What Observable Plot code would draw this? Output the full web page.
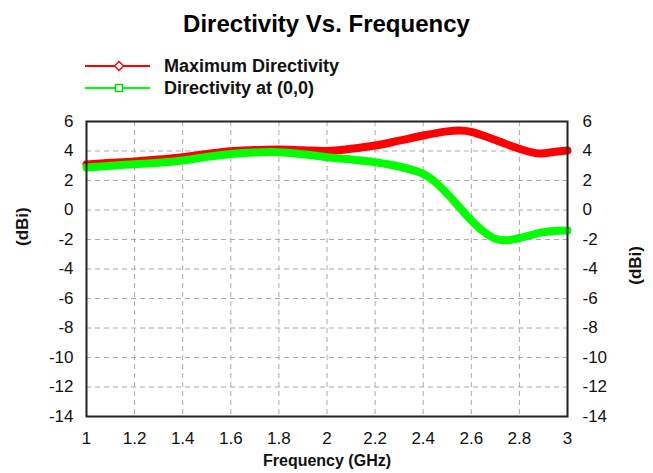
<!DOCTYPE html>
<html>
<head>
<meta charset="utf-8">
<script src="https://cdn.jsdelivr.net/npm/d3@7"></script>
<script src="https://cdn.jsdelivr.net/npm/@observablehq/plot@0.6"></script>
<style>
  body { margin: 0; background: #fff; font-family: "Liberation Sans", Arial, sans-serif; }
  #wrap { width: 653px; height: 473px; position: relative; overflow: hidden; }
  #head { position: relative; width: 653px; height: 105px; }
  #title { position: absolute; left: 0; width: 653px; top: 10px; text-align: center; font-weight: bold; font-size: 24px; color: #000; }
  .leg { position: absolute; left: 85px; height: 20px; display: flex; align-items: center; font-weight: bold; font-size: 18px; color: #111; }
  .leg svg { margin-right: 13px; }
  svg.plot { overflow: visible; display: block; }
</style>
</head>
<body>
<div id="wrap">
  <div id="head">
    <div id="title">Directivity Vs. Frequency</div>
    <div class="leg" style="top:56px">
      <svg width="66" height="12"><line x1="0" y1="6" x2="65" y2="6" stroke="#ff0000" stroke-width="2"/><path d="M34,1.5 L38.5,6 L34,10.5 L29.5,6 Z" fill="#fff" stroke="#ff0000" stroke-width="1.5"/></svg>
      <span>Maximum Directivity</span>
    </div>
    <div class="leg" style="top:78px">
      <svg width="66" height="12"><line x1="0" y1="6" x2="65" y2="6" stroke="#00ff00" stroke-width="2"/><rect x="30.5" y="2.5" width="7" height="7" fill="#fff" stroke="#00dd00" stroke-width="1.5"/></svg>
      <span>Directivity at (0,0)</span>
    </div>
  </div>
  <div id="chart"></div>
</div>
<script>
const seriesNames = ["Maximum Directivity", "Directivity at (0,0)"];
const freqMax = [1.0, 1.1, 1.2, 1.3, 1.4, 1.5, 1.6, 1.7, 1.8, 1.9, 2.0, 2.1, 2.2, 2.3, 2.4, 2.5, 2.55, 2.6, 2.7, 2.8, 2.88, 2.95, 3.0];
const maxDirectivity = [3.08, 3.2, 3.29, 3.42, 3.58, 3.8, 3.99, 4.06, 4.1, 4.05, 4.0, 4.15, 4.37, 4.7, 5.05, 5.33, 5.39, 5.3, 4.75, 4.15, 3.83, 3.95, 4.03];
const freqBore = [1.0, 1.1, 1.2, 1.3, 1.4, 1.5, 1.6, 1.7, 1.8, 1.9, 2.0, 2.1, 2.2, 2.3, 2.4, 2.45, 2.5, 2.55, 2.6, 2.65, 2.7, 2.75, 2.8, 2.9, 3.0];
const boreDirectivity = [2.88, 3.0, 3.1, 3.2, 3.36, 3.6, 3.8, 3.9, 3.92, 3.78, 3.58, 3.42, 3.24, 2.95, 2.45, 1.9, 1.1, 0.2, -0.7, -1.45, -1.95, -2.05, -1.9, -1.5, -1.39];
const xTicks = [1, 1.2, 1.4, 1.6, 1.8, 2, 2.2, 2.4, 2.6, 2.8, 3];
const yTicks = [6, 4, 2, 0, -2, -4, -6, -8, -10, -12, -14];
const colors = ["#ff0000", "#00ff00"];

const maxData = freqMax.map((f, i) => ({f, v: maxDirectivity[i]}));
const boreData = freqBore.map((f, i) => ({f, v: boreDirectivity[i]}));

const font = '"Liberation Sans", Arial, sans-serif';
const plot = Plot.plot({
  width: 653,
  height: 368,
  marginTop: 16,
  marginBottom: 57,
  marginLeft: 86,
  marginRight: 86,
  style: {fontFamily: font, fontSize: "17px", color: "#111", background: "transparent", overflow: "visible"},
  x: {domain: [1, 3]},
  y: {domain: [-14, 6]},
  marks: [
    Plot.gridX(xTicks, {stroke: "#aaa", strokeOpacity: 1, strokeDasharray: "5,4", strokeWidth: 1}),
    Plot.gridY(yTicks, {stroke: "#aaa", strokeOpacity: 1, strokeDasharray: "5,4", strokeWidth: 1}),
    Plot.axisX(xTicks, {tickSize: 0, tickPadding: 15, label: null, tickFormat: d => String(d), fontSize: 17}),
    Plot.axisY(yTicks, {anchor: "left", tickSize: 0, tickPadding: 13, label: null, tickFormat: d => String(d), fontSize: 17}),
    Plot.axisY(yTicks, {anchor: "right", tickSize: 0, tickPadding: 15, label: null, tickFormat: d => String(d), fontSize: 17}),
    Plot.line(maxData, {x: "f", y: "v", stroke: colors[0], strokeWidth: 8, curve: "catmull-rom", strokeLinecap: "round"}),
    Plot.line(boreData, {x: "f", y: "v", stroke: colors[1], strokeWidth: 8, curve: "catmull-rom", strokeLinecap: "round"}),
    Plot.frame({stroke: "#222", strokeWidth: 2}),
    Plot.text(["Frequency (GHz)"], {frameAnchor: "bottom", dy: 49, fontWeight: "bold", fontSize: 16, fill: "#111"}),
    Plot.text(["(dBi)"], {frameAnchor: "left", dx: -64, dy: -23, rotate: -90, fontWeight: "bold", fontSize: 17, fill: "#111"}),
    Plot.text(["(dBi)"], {frameAnchor: "right", dx: 68, dy: -23, rotate: -90, fontWeight: "bold", fontSize: 17, fill: "#111"})
  ]
});
document.getElementById("chart").appendChild(plot);
</script>
</body>
</html>
